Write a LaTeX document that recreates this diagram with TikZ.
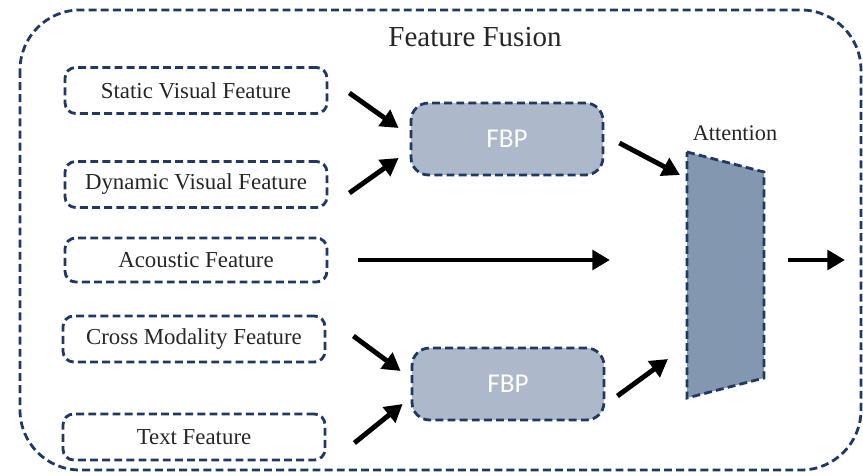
\documentclass[tikz,border=0pt]{standalone}
\usepackage{fontspec}
\setmainfont{Liberation Serif}
\newfontfamily\fbpfont{Carlito}
\usetikzlibrary{arrows.meta,calc}

\definecolor{navy}{HTML}{1F3864}
\definecolor{fbpfill}{HTML}{ADB9CA}
\definecolor{attfill}{HTML}{8497B0}

\tikzset{
    dashline/.style={draw=navy, line width=1.6pt, dash pattern=on 4.5pt off 2.4pt},
    featbox/.style={dashline, rounded corners=6pt, minimum width=5.24cm, minimum height=0.92cm, text=black!85, font=\fontsize{13}{15}\selectfont},
    fbpbox/.style={dashline, fill=fbpfill, rounded corners=10pt, minimum width=3.84cm, minimum height=1.44cm, text=white, font=\fbpfont\fontsize{15.5}{18}\selectfont},
    arr/.style={-{Triangle[length=10pt,width=11pt]}, line width=2.8pt},
}

\begin{document}
\begin{tikzpicture}[x=0.02cm, y=-0.02cm]
        \useasboundingbox (0,0) rectangle (863,476);
        % outer frame
        \draw [dashline, rounded corners=1.2cm] (20,10) rectangle (861,470);
        \node [text=black!85, font=\fontsize{16.5}{19}\selectfont] (title) at (475,37) {Feature Fusion};
        % input features
        \node [featbox] (svf) at (196,90.5) {Static Visual Feature};
        \node [featbox] (dvf) at (196,184.5) {Dynamic Visual Feature};
        \node [featbox, minimum height=0.88cm] (acf) at (196,260) {Acoustic Feature};
        \node [featbox] (cmf) at (194,339) {Cross Modality Feature};
        \node [featbox] (txf) at (194,437) {Text Feature};
        % fusion blocks
        \node [fbpbox] (fbpa) at (507,139) {FBP};
        \node [fbpbox] (fbpb) at (508,384) {FBP};
        % attention
        \coordinate (att-nw) at (687,152);
        \coordinate (att-ne) at (764,172);
        \coordinate (att-se) at (764,378);
        \coordinate (att-sw) at (687,398);
        \draw [dashline, fill=attfill] (att-nw) -- (att-ne) -- (att-se) -- (att-sw) -- cycle;
        \node [text=black!85, font=\fontsize{12.7}{15}\selectfont] (attlabel) at (735,133) {Attention};
        \coordinate (out) at (845,260);
        % arrows
        \draw [arr] ($ (svf.east) + (21,2.5) $) -- ($ (fbpa.west) + (-11,-11) $);
        \draw [arr] ($ (dvf.east) + (21,8.5) $) -- ($ (fbpa.west) + (-11,19) $);
        \draw [arr] ($ (acf.east) + (30,0) $) -- ($ (acf.east -| att-nw) + (-77,0) $);
        \draw [arr] ($ (cmf.east) + (27,-3) $) -- ($ (fbpb.west) + (-10,-13) $);
        \draw [arr] ($ (txf.east) + (28,6) $) -- ($ (fbpb.west) + (-8,20) $);
        \draw [arr] ($ (fbpa.east) + (15,4) $) -- ($ (att-nw) + (-7,23) $);
        \draw [arr] ($ (fbpb.east) + (12,12) $) -- ($ (att-sw) + (-19,-39) $);
        \draw [arr] ($ (out -| att-ne) + (24,0) $) -- (out);
    \end{tikzpicture}
\end{document}
